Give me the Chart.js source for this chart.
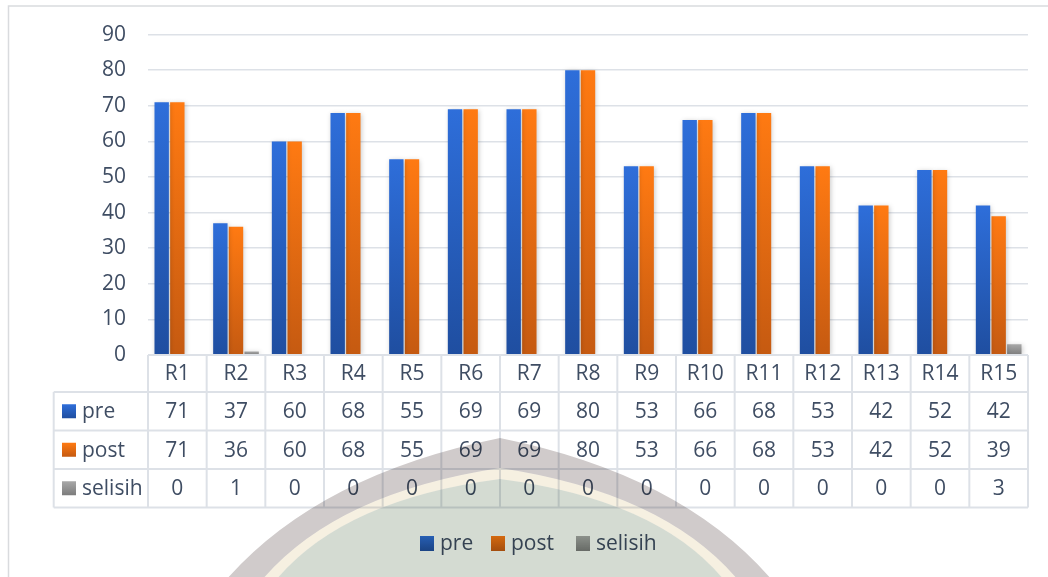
<!DOCTYPE html>
<html>
<head>
<meta charset="utf-8">
<style>
  html, body { margin: 0; padding: 0; background: #fff; }
  #wrap { width: 1048px; height: 577px; }
</style>
<script src="https://cdn.jsdelivr.net/npm/chart.js@4.4.1/dist/chart.umd.min.js"></script>
</head>
<body>
<div id="wrap"><canvas id="chart" width="1048" height="577"></canvas></div>
<script>
// data
var categories = ["R1","R2","R3","R4","R5","R6","R7","R8","R9","R10","R11","R12","R13","R14","R15"];
var preValues = [71, 37, 60, 68, 55, 69, 69, 80, 53, 66, 68, 53, 42, 52, 42];
var postValues = [71, 36, 60, 68, 55, 69, 69, 80, 53, 66, 68, 53, 42, 52, 39];
var selisihValues = [0, 1, 0, 0, 0, 0, 0, 0, 0, 0, 0, 0, 0, 0, 3];
var seriesNames = ["pre", "post", "selisih"];
var yTicks = [0, 10, 20, 30, 40, 50, 60, 70, 80, 90];

var TEXT = "#3f4d63";
var FONT = "21px 'Open Sans', sans-serif";
var LINE = "#dde1e7";
var colors = [
    ["#2e6eda", "#1f4ea0"],
    ["#ff7a12", "#c55a11"],
    ["#a8a8a8", "#7c7c7c"]
];

function barGrad(pair) {
    return function (context) {
        var chart = context.chart;
        if (!chart.chartArea) return pair[0];
        var ys = chart.scales.y;
        var y0 = ys.getPixelForValue(context.raw || 0);
        var y1 = ys.getPixelForValue(0);
        if (y1 - y0 < 1) return pair[1];
        var g = chart.ctx.createLinearGradient(0, y0, 0, y1);
        g.addColorStop(0, pair[0]);
        g.addColorStop(1, pair[1]);
        return g;
    };
}

function swatch(ctx, x, y, w, h, pair) {
    var g = ctx.createLinearGradient(0, y, 0, y + h);
    g.addColorStop(0, pair[0]);
    g.addColorStop(1, pair[1]);
    ctx.fillStyle = g;
    ctx.fillRect(x, y, w, h);
}

// roof-shaped outline of the faint watermark
function roofPath(ctx, peakY, lx, rx) {
    var cy = 475 + (peakY - 438) * 0.6;
    ctx.moveTo(lx, 580);
    ctx.quadraticCurveTo(318 + (lx - 226) * 0.5, cy, 500, peakY);
    ctx.quadraticCurveTo(682 - (772 - rx) * 0.5, cy, rx, 580);
    ctx.closePath();
}

// border, bar shadows, data table, legend, watermark
var extras = {
    id: "extras",
    beforeDraw: function (chart) {
        var ctx = chart.ctx;
        ctx.save();
        ctx.strokeStyle = "#d9dbde";
        ctx.lineWidth = 1.5;
        ctx.strokeRect(8.5, 6, 1060, 620);
        ctx.restore();
    },
    beforeDatasetsDraw: function (chart) {
        var ctx = chart.ctx;
        ctx.save();
        ctx.shadowColor = "rgba(0,0,0,0.22)";
        ctx.shadowBlur = 5;
        ctx.shadowOffsetX = 1;
        ctx.shadowOffsetY = 1;
    },
    afterDatasetsDraw: function (chart) {
        chart.ctx.restore();
    },
    afterDraw: function (chart) {
        var ctx = chart.ctx;
        var area = chart.chartArea;
        var x0 = area.left, x1 = area.right;
        var colW = (x1 - x0) / categories.length;
        var leftX = 53.7;
        var rows = [area.bottom, 392, 430.5, 469, 507.5];
        var rowData = [preValues, postValues, selisihValues];

        ctx.save();
        ctx.strokeStyle = LINE;
        ctx.lineWidth = 2;
        ctx.beginPath();
        ctx.moveTo(x0, rows[0]); ctx.lineTo(x1, rows[0]);
        for (var r = 1; r < rows.length; r++) {
            ctx.moveTo(leftX, rows[r]); ctx.lineTo(x1, rows[r]);
        }
        ctx.moveTo(leftX, rows[1]); ctx.lineTo(leftX, rows[4]);
        for (var c = 0; c <= categories.length; c++) {
            ctx.moveTo(x0 + c * colW, rows[0]); ctx.lineTo(x0 + c * colW, rows[4]);
        }
        ctx.stroke();

        ctx.fillStyle = TEXT;
        ctx.font = FONT;
        ctx.textAlign = "center";
        ctx.textBaseline = "middle";
        for (var i = 0; i < categories.length; i++) {
            var cx = x0 + (i + 0.5) * colW;
            ctx.fillText(categories[i], cx, (rows[0] + rows[1]) / 2 + 1);
            for (var k = 0; k < rowData.length; k++) {
                ctx.fillText(String(rowData[k][i]), cx, (rows[k + 1] + rows[k + 2]) / 2 + 1);
            }
        }

        ctx.textAlign = "left";
        for (var s = 0; s < seriesNames.length; s++) {
            var cy = (rows[s + 1] + rows[s + 2]) / 2;
            swatch(ctx, 62, cy - 7, 14, 14, colors[s]);
            ctx.fillStyle = TEXT;
            ctx.fillText(seriesNames[s], 82, cy + 1);
        }

        // bottom legend
        var legendX = [420, 491, 576];
        for (var j = 0; j < seriesNames.length; j++) {
            swatch(ctx, legendX[j], 536, 14, 15, colors[j]);
            ctx.fillStyle = TEXT;
            ctx.fillText(seriesNames[j], legendX[j] + 20, 544);
        }

        // watermark bands, multiplied so the text stays visible through them
        ctx.globalCompositeOperation = "multiply";
        ctx.beginPath();
        roofPath(ctx, 438, 226, 772);
        roofPath(ctx, 468, 262, 738);
        ctx.fillStyle = "rgb(208,203,203)";
        ctx.fill("evenodd");
        ctx.beginPath();
        roofPath(ctx, 468, 262, 738);
        roofPath(ctx, 479, 276, 724);
        ctx.fillStyle = "rgb(246,240,225)";
        ctx.fill("evenodd");
        ctx.beginPath();
        roofPath(ctx, 479, 276, 724);
        ctx.fillStyle = "rgb(212,219,210)";
        ctx.fill();
        ctx.restore();
    }
};

var barData = {
    type: "bar",
    data: {
        labels: categories,
        datasets: [
            { label: seriesNames[0], data: preValues, backgroundColor: barGrad(colors[0]) },
            { label: seriesNames[1], data: postValues, backgroundColor: barGrad(colors[1]) },
            { label: seriesNames[2], data: selisihValues, backgroundColor: barGrad(colors[2]) }
        ]
    },
    options: {
        responsive: false,
        animation: false,
        events: [],
        devicePixelRatio: 1,
        layout: { padding: { left: 0, right: 20, top: 34, bottom: 222 } },
        datasets: { bar: { categoryPercentage: 0.8, barPercentage: 0.92, borderWidth: 0 } },
        plugins: {
            legend: { display: false },
            tooltip: { enabled: false }
        },
        scales: {
            x: { display: false },
            y: {
                min: 0,
                max: 90,
                afterFit: function (scale) { scale.width = 148; },
                afterBuildTicks: function (scale) {
                    scale.ticks = yTicks.map(function (v) { return { value: v }; });
                },
                border: { display: false },
                grid: { color: LINE, lineWidth: 1.5, drawTicks: false },
                ticks: {
                    padding: 22,
                    color: TEXT,
                    font: { family: "'Open Sans', sans-serif", size: 21 }
                }
            }
        }
    },
    plugins: [extras]
};

var ctx = document.getElementById("chart").getContext("2d");
new Chart(ctx, barData);
</script>
</body>
</html>
